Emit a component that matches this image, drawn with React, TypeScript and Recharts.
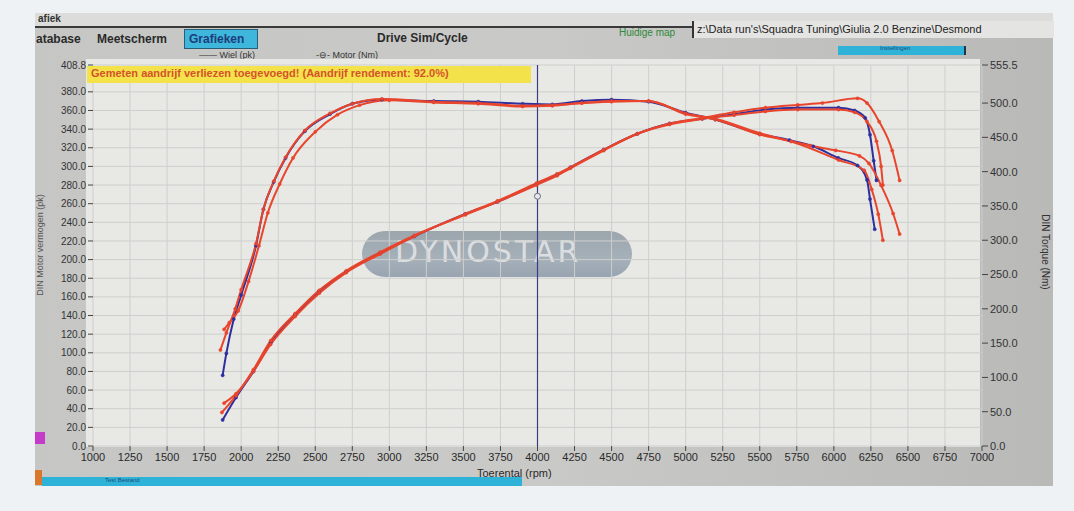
import React from 'react';
import {
  LineChart,
  Line,
  XAxis,
  YAxis,
  CartesianGrid,
  ReferenceLine,
  ReferenceDot,
} from 'recharts';

// rpm ticks and axis ticks
const rpmTicks = [
  1000, 1250, 1500, 1750, 2000, 2250, 2500, 2750, 3000, 3250, 3500, 3750, 4000,
  4250, 4500, 4750, 5000, 5250, 5500, 5750, 6000, 6250, 6500, 6750, 7000,
];
const pkTicks = [
  0, 20, 40, 60, 80, 100, 120, 140, 160, 180, 200, 220, 240, 260, 280, 300, 320,
  340, 360, 380, 408.8,
];
const nmTicks = [0, 50, 100, 150, 200, 250, 300, 350, 400, 450, 500, 555.5];

// Wiel (pk) per run: [rpm, pk]
const wielRun1: [number, number][] = [
  [1875, 28], [1965, 52], [2083, 80], [2199, 111], [2364, 141], [2527, 166],
  [2709, 187], [2938, 207], [3169, 225], [3513, 249], [3730, 262], [3993, 281],
  [4132, 291], [4222, 299], [4447, 318], [4674, 335], [4891, 346], [5112, 351],
  [5327, 356], [5538, 361], [5756, 363], [6032, 363], [6141, 360], [6212, 352],
  [6244, 334], [6269, 306], [6288, 285],
];
const wielRun2: [number, number][] = [
  [1870, 36], [1965, 54], [2083, 82], [2199, 113], [2364, 142], [2527, 167],
  [2709, 188], [2938, 208], [3169, 226], [3513, 248], [3730, 262], [3993, 280],
  [4132, 290], [4222, 298], [4447, 317], [4674, 335], [4891, 345], [5112, 351],
  [5327, 355], [5538, 359], [5756, 361], [6032, 361], [6141, 358], [6224, 348],
  [6288, 327], [6319, 300], [6331, 280],
];
const wielRun3: [number, number][] = [
  [1885, 46], [1965, 56], [2083, 80], [2199, 109], [2364, 139], [2527, 164],
  [2709, 186], [2938, 206], [3169, 225], [3513, 249], [3730, 263], [3993, 282],
  [4132, 292], [4222, 299], [4447, 318], [4674, 335], [4891, 346], [5112, 352],
  [5327, 358], [5538, 363], [5756, 366], [5923, 368], [6160, 373], [6224, 368],
  [6306, 348], [6394, 317], [6444, 285],
];

// Motor (Nm) per run: [rpm, Nm]
const motorRun1: [number, number][] = [
  [1875, 103], [1900, 135], [1950, 185], [2000, 220], [2100, 292], [2150, 345],
  [2220, 385], [2300, 420], [2430, 459], [2600, 484], [2750, 499], [2950, 505],
  [3300, 503], [3600, 502], [3900, 499], [4100, 498], [4300, 503], [4500, 505],
  [4750, 502], [5000, 486], [5200, 476], [5500, 455], [5700, 446], [5860, 437],
  [6030, 420], [6160, 409], [6224, 388], [6244, 360], [6276, 316],
];
const motorRun2: [number, number][] = [
  [1860, 140], [1900, 165], [1960, 200], [2000, 228], [2100, 295], [2150, 345],
  [2220, 386], [2300, 421], [2430, 460], [2600, 485], [2750, 499], [2950, 506],
  [3300, 502], [3600, 500], [3900, 496], [4100, 497], [4300, 500], [4500, 503],
  [4750, 503], [5000, 484], [5200, 476], [5500, 454], [5712, 444], [6032, 417],
  [6205, 402], [6256, 374], [6300, 338], [6331, 300],
];
const motorRun3: [number, number][] = [
  [1885, 170], [1920, 180], [1980, 197], [2050, 240], [2120, 292], [2180, 340],
  [2260, 382], [2350, 420], [2500, 458], [2650, 483], [2800, 497], [3000, 504],
  [3300, 501], [3600, 499], [3900, 495], [4100, 496], [4300, 500], [4500, 502],
  [4750, 503], [5000, 485], [5200, 477], [5500, 456], [5840, 438], [6013, 431],
  [6173, 423], [6237, 412], [6319, 380], [6400, 339], [6444, 309],
];

const BLUE = '#2d2f9e';
const RED = '#e8452c';

const toRows = (pts: [number, number][]) => pts.map(([rpm, v]) => ({ rpm, v }));

const series = [
  { id: 'w1', data: toRows(wielRun1), axis: 'pk', color: BLUE },
  { id: 'm1', data: toRows(motorRun1), axis: 'nm', color: BLUE },
  { id: 'w2', data: toRows(wielRun2), axis: 'pk', color: RED },
  { id: 'm2', data: toRows(motorRun2), axis: 'nm', color: RED },
  { id: 'w3', data: toRows(wielRun3), axis: 'pk', color: RED },
  { id: 'm3', data: toRows(motorRun3), axis: 'nm', color: RED },
];

const sans = '"Liberation Sans", Arial, sans-serif';
const narrow = '"Liberation Sans Narrow", "Liberation Sans", Arial, sans-serif';

const abs = (s: React.CSSProperties): React.CSSProperties => ({ position: 'absolute', ...s });

export default function App() {
  return (
    <div style={abs({ left: 0, top: 0, width: 1074, height: 511, background: '#eef2f5', overflow: 'hidden', fontFamily: sans })}>
      {/* photographed screen */}
      <div style={abs({ left: 35, top: 13, width: 1018, height: 473, background: 'linear-gradient(90deg, #c6c6c4 0%, #c9c9c7 50%, #b9b9b8 100%)' })} />
      <div style={abs({ left: 35, top: 13, width: 1018, height: 14, background: '#dcdcda' })} />
      <div style={abs({ left: 35, top: 26, width: 1018, height: 2, background: '#3a3a3a' })} />
      <div style={abs({ left: 38, top: 13, fontSize: 10, fontWeight: 700, color: '#333' })}>afiek</div>

      {/* tabs */}
      <div style={abs({ left: 36, top: 32, fontSize: 12, fontWeight: 700, color: '#2a2a2a' })}>atabase</div>
      <div style={abs({ left: 97, top: 32, fontSize: 12, fontWeight: 700, color: '#2a2a2a' })}>Meetscherm</div>
      <div style={abs({ left: 184, top: 29, width: 72, height: 18, background: '#3fb6dc', border: '1px solid #2a5d78' })} />
      <div style={abs({ left: 189, top: 32, fontSize: 12, fontWeight: 700, color: '#1d3d7a' })}>Grafieken</div>
      <div style={abs({ left: 377, top: 31, fontSize: 12, fontWeight: 700, color: '#2a2a2a' })}>Drive Sim/Cycle</div>
      <div style={abs({ left: 619, top: 27, fontSize: 10, color: '#2f8a3a' })}>Huidige map</div>
      <div style={abs({ left: 692, top: 21, width: 360, height: 17, background: '#e4e4e2', borderLeft: '2px solid #333' })} />
      <div style={abs({ left: 697, top: 23, fontSize: 11, color: '#222', whiteSpace: 'nowrap' })}>
        z:\Data run's\Squadra Tuning\Giulia 2.0 Benzine\Desmond
      </div>

      {/* legend */}
      <div style={abs({ left: 199, top: 50, fontSize: 9, color: '#333', whiteSpace: 'nowrap' })}>—— Wiel (pk)</div>
      <div style={abs({ left: 316, top: 50, fontSize: 9, color: '#333', whiteSpace: 'nowrap' })}>-⊖- Motor (Nm)</div>

      {/* instellingen button */}
      <div style={abs({ left: 838, top: 46, width: 126, height: 9, background: '#2fb2d8', borderRight: '2px solid #234' })} />
      <div style={abs({ left: 880, top: 45, fontSize: 6, color: '#1d4d7a' })}>Instellingen</div>

      {/* plot background */}
      <div style={abs({ left: 86, top: 59, width: 894, height: 388, background: '#e8e9e5' })} />

      {/* watermark */}
      <div style={abs({ left: 362, top: 231, width: 270, height: 46, borderRadius: 23, background: 'linear-gradient(180deg, #8f9aa3 0%, #9aa6b2 60%, #8a98a8 100%)', opacity: 0.85 })} />
      <div style={abs({ left: 395, top: 234, fontSize: 30, letterSpacing: 3, color: '#e2e4e6', fontFamily: '"DejaVu Sans", sans-serif', opacity: 0.9 })}>DYNOSTAR</div>

      <div style={abs({ left: 0, top: 0 })}>
        <LineChart width={1074} height={511} margin={{ top: 65, right: 0, bottom: 35, left: 0 }}>
          <CartesianGrid xAxisId="rpm" yAxisId="pk" stroke="#cecfcc" strokeWidth={1} />
          <XAxis
            xAxisId="rpm"
            dataKey="rpm"
            type="number"
            domain={[1000, 7000]}
            ticks={rpmTicks}
            interval={0}
            axisLine={false}
            tickLine={{ stroke: '#444' }}
            tickSize={5}
            height={30}
            tick={{ fontSize: 11, fill: '#2a2a2a', fontFamily: narrow }}
            allowDataOverflow
          />
          <YAxis
            yAxisId="pk"
            orientation="left"
            type="number"
            domain={[0, 408.8]}
            ticks={pkTicks}
            interval={0}
            width={93}
            axisLine={false}
            tickLine={{ stroke: '#444' }}
            tickSize={5}
            tick={{ fontSize: 10, fill: '#333', fontFamily: sans }}
            tickFormatter={(v: number) => v.toFixed(1)}
          />
          <YAxis
            yAxisId="nm"
            orientation="right"
            type="number"
            domain={[0, 555.5]}
            ticks={nmTicks}
            interval={0}
            width={92}
            axisLine={false}
            tickLine={{ stroke: '#444' }}
            tickSize={6}
            tick={{ fontSize: 11, fill: '#333', fontFamily: sans }}
            tickFormatter={(v: number) => v.toFixed(1)}
          />
          <ReferenceLine xAxisId="rpm" yAxisId="pk" x={4000} stroke="#3b3c86" strokeWidth={1.2} />
          {series.map((s) => (
            <Line
              key={s.id}
              xAxisId="rpm"
              yAxisId={s.axis}
              data={s.data}
              dataKey="v"
              type="monotone"
              stroke={s.color}
              strokeWidth={2}
              dot={{ r: 1.6, fill: s.color, stroke: s.color, strokeWidth: 0.5 }}
              isAnimationActive={false}
            />
          ))}
          <ReferenceDot xAxisId="rpm" yAxisId="pk" x={4000} y={268} r={3} fill="#e7e8e4" stroke="#6a6a8a" strokeWidth={1} />
        </LineChart>
      </div>

      {/* banner */}
      <div style={abs({ left: 87, top: 66, width: 444, height: 17, background: '#f3e24a' })} />
      <div style={abs({ left: 91, top: 67, fontSize: 11, fontWeight: 700, color: '#d5532a', whiteSpace: 'nowrap' })}>
        Gemeten aandrijf verliezen toegevoegd! (Aandrijf rendement: 92.0%)
      </div>

      {/* axis titles */}
      <div style={abs({ left: 40, top: 245, fontSize: 9, color: '#555', whiteSpace: 'nowrap', transform: 'translate(-50%, -50%) rotate(-90deg)' })}>
        DIN Motor vermogen (pk)
      </div>
      <div style={abs({ left: 1045, top: 252, fontSize: 10, color: '#333', whiteSpace: 'nowrap', transform: 'translate(-50%, -50%) rotate(90deg)' })}>
        DIN Torque (Nm)
      </div>
      <div style={abs({ left: 477, top: 467, fontSize: 11, color: '#2a2a2a', fontFamily: narrow })}>Toerental (rpm)</div>

      {/* bottom bar and side buttons */}
      <div style={abs({ left: 42, top: 477, width: 480, height: 9, background: '#2fb2d8' })} />
      <div style={abs({ left: 105, top: 477, fontSize: 6, color: '#1d4d7a' })}>Test Bestand</div>
      <div style={abs({ left: 35, top: 432, width: 10, height: 12, background: '#c43cc8' })} />
      <div style={abs({ left: 35, top: 470, width: 7, height: 15, background: '#d9782a' })} />
    </div>
  );
}
